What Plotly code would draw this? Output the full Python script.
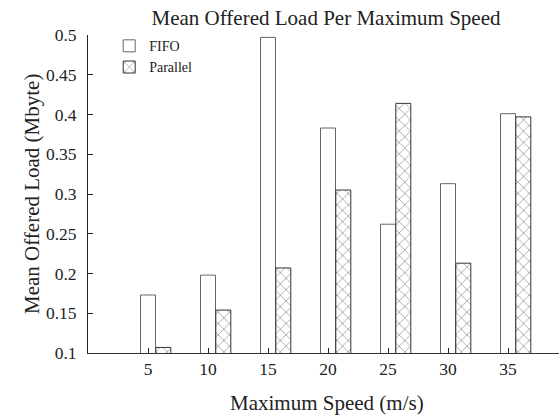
import plotly.graph_objects as go

speeds = [5, 10, 15, 20, 25, 30, 35]
fifo = [0.173, 0.198, 0.497, 0.383, 0.262, 0.313, 0.401]
parallel = [0.107, 0.154, 0.207, 0.305, 0.414, 0.213, 0.397]
y_ticks = [0.1, 0.15, 0.2, 0.25, 0.3, 0.35, 0.4, 0.45, 0.5]
y_tick_text = ["0.1", "0.15", "0.2", "0.25", "0.3", "0.35", "0.4", "0.45", "0.5"]

FONT = "Liberation Serif"
W, H = 559, 417
L, R, T, B = 88, 0, 35, 64
PW, PH = W - L - R, H - T - B
X_RANGE = [0, PW / 12]

fig = go.Figure()
fig.add_trace(go.Bar(
    x=speeds, y=fifo, name="FIFO", width=1.25, offset=-0.625,
    marker=dict(color="white", line=dict(color="#666", width=1)),
))
fig.add_trace(go.Bar(
    x=speeds, y=parallel, name="Parallel", width=1.25, offset=0.65,
    marker=dict(color="white", line=dict(color="#333", width=1),
                pattern=dict(shape="x", size=8, solidity=0.2, fgcolor="#444", bgcolor="white")),
))
fig.update_layout(
    width=W, height=H, barmode="overlay",
    plot_bgcolor="white", paper_bgcolor="white",
    margin=dict(l=L, r=R, t=T, b=B),
    font=dict(family=FONT, color="#222", size=17.5),
    title=dict(text="Mean Offered Load Per Maximum Speed", xref="paper", x=(326 - L) / PW,
               xanchor="center", yref="container", y=1 - 18 / H, yanchor="middle",
               font=dict(size=21, family=FONT, color="#222")),
    legend=dict(x=0.045, y=1.015, xanchor="left", yanchor="top", bgcolor="rgba(0,0,0,0)",
                font=dict(size=14, family=FONT), tracegroupgap=0, itemwidth=30),
    showlegend=True,
    annotations=[
        dict(text="Maximum Speed (m/s)", xref="paper", yref="paper",
             x=(327 - L) / PW, y=-(403 - (T + PH)) / PH, xanchor="center", yanchor="middle",
             showarrow=False, font=dict(size=21, family=FONT, color="#222")),
        dict(text="Mean Offered Load (Mbyte)", xref="paper", yref="paper", textangle=-90,
             x=(32 - L) / PW, y=0.5, xanchor="center", yanchor="middle",
             showarrow=False, font=dict(size=21, family=FONT, color="#222")),
    ],
    xaxis=dict(
        range=X_RANGE, tickvals=speeds, ticktext=[str(s) for s in speeds],
        ticks="inside", ticklen=5, tickcolor="#222", mirror=False, showline=True,
        linecolor="#333", linewidth=1, showgrid=False, zeroline=False,
        tickfont=dict(size=17.5, family=FONT),
    ),
    xaxis2=dict(
        overlaying="x", side="top", anchor="y", range=X_RANGE, tickvals=speeds,
        showticklabels=False, ticks="inside", ticklen=5, tickcolor="#222",
        showline=True, linecolor="#555", linewidth=1, showgrid=False, zeroline=False,
    ),
    yaxis=dict(
        range=[0.1, 0.5], tickvals=y_ticks, ticktext=y_tick_text,
        ticks="inside", ticklen=5, tickcolor="#222", showline=True, mirror=False,
        linecolor="#222", linewidth=1, showgrid=False, zeroline=False,
        tickfont=dict(size=17.5, family=FONT), ticklabelstandoff=7,
    ),
)
fig.write_html("out.html", config={"displayModeBar": False},
               post_script="document.documentElement.style.overflow='hidden';document.body.style.margin='0';document.body.style.overflow='hidden';")
